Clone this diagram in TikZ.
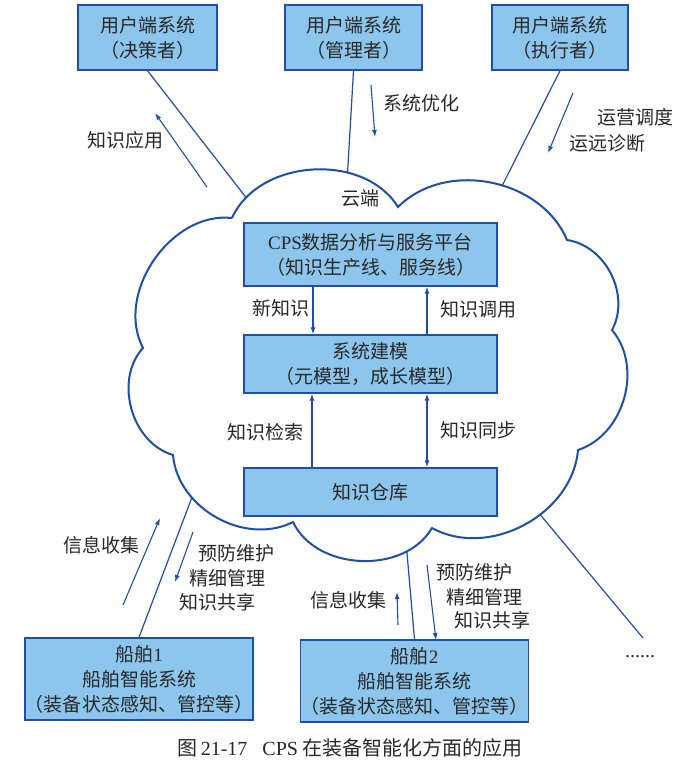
\documentclass[tikz,border=0pt]{standalone}
\usepackage{fontspec}
\setmainfont{Noto Sans CJK SC}
\newfontfamily\lat{Liberation Serif}
\usetikzlibrary{arrows.meta,intersections}
\definecolor{boxfill}{RGB}{141,198,237}
\definecolor{edge}{RGB}{32,78,172}
\definecolor{ink}{RGB}{40,40,40}
\begin{document}
\begin{tikzpicture}[x=1bp,y=-1bp,
  box/.style={draw=edge,line width=1.4bp,fill=boxfill,text=ink,align=center,inner sep=0pt,font=\fontsize{19bp}{25bp}\selectfont},
  lbl/.style={text=ink,font=\fontsize{19bp}{25bp}\selectfont,inner sep=0pt,align=center},
  link/.style={draw=edge,line width=1.2bp},
  flow/.style={draw=edge,line width=1.1bp,-{Latex[length=7bp,width=5bp]}},
  biflow/.style={draw=edge,line width=1.1bp,{Latex[length=7bp,width=5bp]}-{Latex[length=7bp,width=5bp]}},
  cloudline/.style={draw=edge,line width=2bp}]
\useasboundingbox (0,0) rectangle (692,772);
\fill[white] (0,0) rectangle (692,772);

% cloud
\path[cloudline,name path=cloud] (232,218) to[bend left=62] (398,207) to[bend left=56] (567,240)
  to[bend left=55] (612,330) to[bend left=56] (578,450) to[bend left=57] (432,528)
  to[bend left=62] (293,522) to[bend left=56] (173,455) to[bend left=58] (143,348)
  to[bend left=62] (232,218);

% boxes
\node[box,minimum width=139bp,minimum height=65bp] (b1) at (147.5,37.5) {用户端系统\\（决策者）};
\node[box,minimum width=137bp,minimum height=65bp] (b2) at (353.5,37.5) {用户端系统\\（管理者）};
\node[box,minimum width=136bp,minimum height=65bp] (b3) at (560,37.5) {用户端系统\\（执行者）};
\node[box,minimum width=253bp,minimum height=63bp] (cps) at (370.5,254.5) {{\lat CPS}数据分析与服务平台\\（知识生产线、服务线）};
\node[box,minimum width=253bp,minimum height=58bp] (mod) at (370.5,364) {系统建模\\（元模型，成长模型）};
\node[box,minimum width=253bp,minimum height=48bp] (kb) at (370.5,492) {知识仓库};
\node[box,minimum width=226bp,minimum height=82bp] (s1) at (139,679) {船舶{\lat 1}\\船舶智能系统\\（装备状态感知、管控等）};
\node[box,minimum width=225bp,minimum height=82bp] (s2) at (414.5,681) {船舶{\lat 2}\\船舶智能系统\\（装备状态感知、管控等）};

% labels
\node[lbl] (t1) at (125,140) {知识应用};
\node[lbl] (t2) at (421,103) {系统优化};
\node[lbl] (t3) at (635,117) {运营调度};
\node[lbl] (t4) at (607,143) {运远诊断};
\node[lbl] (yun) at (360,198) {云端};
\node[lbl] (t5) at (281,308) {新知识};
\node[lbl] (t6) at (478,309) {知识调用};
\node[lbl] (t7) at (265,432) {知识检索};
\node[lbl] (t8) at (478,430) {知识同步};
\node[lbl] (t9) at (101,545) {信息收集};
\node[lbl] (t10) at (236,553) {预防维护};
\node[lbl] (t11) at (227,578) {精细管理};
\node[lbl] (t12) at (217,602) {知识共享};
\node[lbl] (t13) at (348,600) {信息收集};
\node[lbl] (t14) at (474,572) {预防维护};
\node[lbl] (t15) at (484,597) {精细管理};
\node[lbl] (t16) at (492,620) {知识共享};
\node[lbl,font=\fontsize{20bp}{25bp}\selectfont\lat] (dots) at (640,657) {......};
\node[lbl,font=\fontsize{20bp}{25bp}\selectfont] (cap) at (350,748) {图\,{\lat 21-17}\hspace{0.75em}{\lat CPS} 在装备智能化方面的应用};

% links between boxes and cloud
\path[name path=l1] (b1.south) -- (262,218);
\path[name path=l2] (b2.south) -- (346,200);
\path[name path=l3] (b3.south) -- (495,200);
\path[name path=l4] (s1.north) -- (200,476);
\path[name path=l5] (s2.north) -- (405,530);
\path[name path=l6] (528,500) -- (643,638);
\path[name intersections={of=cloud and l1,by=c1}];
\path[name intersections={of=cloud and l2,by=c2}];
\path[name intersections={of=cloud and l3,by=c3}];
\path[name intersections={of=cloud and l4,by=c4}];
\path[name intersections={of=cloud and l5,by=c5}];
\path[name intersections={of=cloud and l6,by=c6}];
\coordinate (dotend) at (643,638);
\draw[link] (b1.south) -- (c1);
\draw[link] (b2.south) -- (c2);
\draw[link] (b3.south) -- (c3);
\draw[link] (s1.north) -- (c4);
\draw[link] (s2.north) -- (c5);
\draw[link] (c6) -- (dotend);

% inner arrows
\draw[flow] ([xshift=-57.5bp]cps.south) -- ([xshift=-57.5bp]mod.north);
\draw[flow] ([xshift=56.5bp]mod.north) -- ([xshift=56.5bp]cps.south);
\draw[flow] ([xshift=-58.5bp]kb.north) -- ([xshift=-58.5bp]mod.south);
\draw[biflow] ([xshift=56.5bp]mod.south) -- ([xshift=56.5bp]kb.north);

% free arrows
\coordinate (a1s) at (207,187); \coordinate (a1e) at (155,113);
\coordinate (a2s) at (371,85);  \coordinate (a2e) at (375,137);
\coordinate (a3s) at (573,93);  \coordinate (a3e) at (548,153);
\coordinate (a4s) at (123,605); \coordinate (a4e) at (160,518);
\coordinate (a5s) at (193,532); \coordinate (a5e) at (175,582);
\coordinate (a6s) at (398,625); \coordinate (a6e) at (397,592);
\coordinate (a7s) at (427,565); \coordinate (a7e) at (436,640);
\draw[flow] (a1s) -- (a1e);
\draw[flow] (a2s) -- (a2e);
\draw[flow] (a3s) -- (a3e);
\draw[flow] (a4s) -- (a4e);
\draw[flow] (a5s) -- (a5e);
\draw[flow] (a6s) -- (a6e);
\draw[flow] (a7s) -- (a7e);
\end{tikzpicture}
\end{document}
